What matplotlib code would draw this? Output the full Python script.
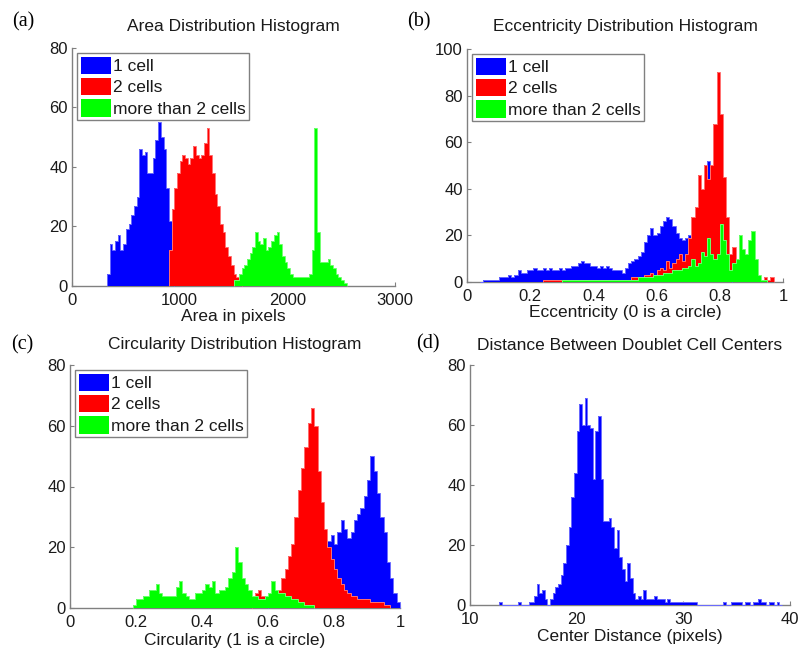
import numpy as np
import matplotlib
matplotlib.use('Agg')
import matplotlib.pyplot as plt
from matplotlib.patches import Patch

plt.rcParams['font.family'] = ['Liberation Sans', 'DejaVu Sans']

# ---------------- data ----------------
legend_labels = ['1 cell', '2 cells', 'more than 2 cells']

# (a) Area
area_bin = 25
area_1cell_start = 325
area_1cell = [4, 14, 12, 15, 17, 12, 14, 19, 21, 24, 27, 30, 46, 44, 45, 38, 38, 43, 49, 55,
              50, 46, 33, 22, 10]
area_2cell_start = 900
area_2cell = [12, 26, 33, 38, 42, 44, 43, 41, 43, 47, 44, 43, 44, 48, 53, 44, 38, 31, 27, 21,
              18, 13, 10, 7, 4, 3, 2]
area_more_start = 1500
area_more = [2, 2, 4, 6, 7, 9, 11, 13, 18, 15, 14, 16, 12, 13, 15, 17, 18, 14, 10, 8,
             6, 4, 3, 3, 3, 3, 3, 3, 4, 12, 53, 18, 8, 8, 8, 9, 7, 6, 4, 3, 2, 1]

# (b) Eccentricity
ecc_bin = 0.01
ecc_1cell_start = 0.04
ecc_1cell = [0, 1, 1, 1, 1, 1, 2, 2, 2, 3, 2, 3, 5, 4, 4, 5, 5, 6, 5, 5,
             6, 5, 6, 5, 5, 6, 5, 6, 6, 7, 7, 8, 9, 8, 8, 7, 7, 6, 7, 6,
             7, 6, 5, 5, 5, 4, 6, 8, 9, 10, 11, 13, 17, 20, 23, 20, 21, 24, 26, 28,
             27, 24, 21, 19, 18, 19, 20, 24, 28, 33, 40, 46, 52, 40, 36, 33, 20, 8, 3, 1]
ecc_2cell_start = 0.24
ecc_2cell = [1, 1, 1, 1, 1, 1, 1, 1, 1, 1,
             1, 1, 1, 1, 1, 1, 1, 1, 1, 1,
             1, 1, 1, 1, 1, 1, 1, 1, 2, 2,
             2, 2, 3, 3, 4, 3, 5, 6, 5, 9,
             6, 8, 10, 12, 9, 12, 19, 28, 32, 46,
             40, 50, 44, 50, 68, 90, 72, 45, 28, 12,
             15, 9, 4, 3, 3, 2, 2, 1, 1, 1,
             2, 1, 2]
ecc_more_start = 0.30
ecc_more = [1, 1, 1, 1, 1, 1, 1, 1, 1, 1,
            1, 1, 1, 1, 1, 1, 1, 1, 1, 1,
            1, 1, 1, 1, 2, 2, 2, 2, 2, 3,
            3, 3, 4, 4, 4, 5, 5, 5, 6, 6,
            7, 10, 7, 8, 13, 11, 19, 12, 10, 12,
            25, 18, 12, 5, 8, 10, 20, 14, 12, 18,
            22, 10, 3, 1, 1]

# (c) Circularity
circ_bin = 0.01
circ_1cell_start = 0.60
circ_1cell = [1, 1, 2, 2, 3, 4, 5, 6, 8, 9,
              11, 12, 14, 15, 17, 18, 20, 21, 22, 24,
              21, 25, 29, 26, 23, 25, 29, 31, 33, 37,
              42, 50, 45, 38, 30, 25, 15, 10, 5, 2]
circ_2cell_start = 0.55
circ_2cell = [2, 5, 6, 4, 3, 3, 4, 4, 6, 10,
              13, 17, 21, 30, 39, 46, 53, 61, 66, 60,
              45, 35, 26, 20, 16, 13, 10, 8, 6, 5,
              4, 4, 3, 3, 3, 3, 2, 2, 2, 2,
              1, 1]
circ_more_start = 0.19
circ_more = [1, 3, 3, 4, 4, 6, 6, 8, 5, 4,
             4, 4, 4, 7, 9, 5, 4, 3, 3, 5,
             5, 6, 8, 7, 9, 5, 6, 6, 7, 10,
             12, 20, 15, 10, 8, 6, 4, 4, 3, 3,
             4, 5, 9, 6, 5, 5, 4, 4, 3, 3,
             2, 2, 1, 1, 1]

# (d) Center distance
dist_bin = 0.25
dist_start = 12.75
dist_counts = [1, 0, 0, 0, 0, 0, 0, 1, 0, 0, 0, 1, 1,
               3, 7, 4, 5, 2, 0, 2, 4,
               6, 7, 10, 14, 20, 26, 36, 44,
               58, 67, 60, 69, 60, 59, 42, 58,
               63, 42, 28, 28, 29, 26, 19, 25,
               16, 12, 8, 14, 9, 4, 2, 3,
               2, 5, 2, 2, 2, 3, 2, 2,
               2, 1, 2, 1, 1, 1, 1, 1,
               1, 1, 1, 1, 1, 0, 0, 0,
               0, 0, 0, 0, 0, 0, 0, 1,
               0, 0, 1, 1, 1, 1, 0, 1,
               1, 0, 1, 1, 2, 1, 1, 0,
               1, 1, 0, 1, 0]

# ---------------- styling ----------------
BLUE, RED, GREEN = '#0000ff', '#ff0000', '#00ff00'
EDGE = {BLUE: '#6b6bff', RED: '#ff7070', GREEN: '#70ff70'}
AXC = '#808080'
TXT = '#1a1a1a'
W, H = 802, 648

fig = plt.figure(figsize=(W / 100, H / 100), dpi=100)


def px_axes(x0, x1, ytop, ybot):
    return fig.add_axes([x0 / W, 1 - ybot / H, (x1 - x0) / W, (ybot - ytop) / H])


def hist(ax, start, width, counts, color):
    counts = np.asarray(counts, dtype=float)
    edges = start + width * np.arange(len(counts) + 1)
    ax.stairs(counts, edges, fill=True, color=color, lw=0, zorder=3)
    ax.stairs(counts, edges, color=EDGE[color], lw=0.7, zorder=3, clip_on=False)


def style(ax, xlim, ylim, xticks, yticks, xticklabels=None):
    ax.set_xlim(*xlim)
    ax.set_ylim(*ylim)
    ax.set_xticks(xticks)
    if xticklabels is not None:
        ax.set_xticklabels(xticklabels)
    ax.set_yticks(yticks)
    for s in ('top', 'right'):
        ax.spines[s].set_visible(False)
    for s in ('left', 'bottom'):
        ax.spines[s].set_color(AXC)
        ax.spines[s].set_linewidth(1.0)
    ax.tick_params(direction='in', length=3, color=AXC, labelsize=12, labelcolor=TXT)
    ax.tick_params(axis='x', pad=5)
    ax.tick_params(axis='y', pad=3)
    ax.patch.set_alpha(0)


def titles(ax, title, xlabel, tpx, lpx):
    ax.annotate(title, xy=(0.5, 1), xycoords='axes fraction', xytext=(0, tpx * 0.72),
                textcoords='offset points', ha='center', va='center', fontsize=12.5, color=TXT)
    ax.annotate(xlabel, xy=(0.5, 0), xycoords='axes fraction', xytext=(0, -lpx * 0.72),
                textcoords='offset points', ha='center', va='center', fontsize=12.5, color=TXT)


def legend(ax):
    handles = [Patch(facecolor=c, edgecolor='none') for c in (BLUE, RED, GREEN)]
    lg = ax.legend(handles, legend_labels, loc='upper left', bbox_to_anchor=(0, 1),
                   frameon=True, fancybox=False, edgecolor=AXC, framealpha=1,
                   fontsize=12.5, handlelength=1.75, handleheight=1.15,
                   handletextpad=0.12, labelspacing=0.22, borderpad=0.2,
                   borderaxespad=0.3)
    lg.get_frame().set_linewidth(1.0)
    lg.set_zorder(5)
    for t in lg.get_texts():
        t.set_color(TXT)


# (a)
ax = px_axes(72, 395, 48, 286)
hist(ax, area_1cell_start, area_bin, area_1cell, BLUE)
hist(ax, area_2cell_start, area_bin, area_2cell, RED)
hist(ax, area_more_start, area_bin, area_more, GREEN)
style(ax, (0, 3000), (0, 80), [0, 1000, 2000, 3000], [0, 20, 40, 60, 80])
titles(ax, 'Area Distribution Histogram', 'Area in pixels', 21, 31)
legend(ax)

# (b)
ax = px_axes(467, 783, 49, 282)
hist(ax, ecc_1cell_start, ecc_bin, ecc_1cell, BLUE)
hist(ax, ecc_2cell_start, ecc_bin, ecc_2cell, RED)
hist(ax, ecc_more_start, ecc_bin, ecc_more, GREEN)
style(ax, (0, 1), (0, 100), [0, 0.2, 0.4, 0.6, 0.8, 1], [0, 20, 40, 60, 80, 100],
      ['0', '0.2', '0.4', '0.6', '0.8', '1'])
titles(ax, 'Eccentricity Distribution Histogram', 'Eccentricity (0 is a circle)', 22, 31)
legend(ax)

# (c)
ax = px_axes(70, 400, 365, 608)
hist(ax, circ_1cell_start, circ_bin, circ_1cell, BLUE)
hist(ax, circ_2cell_start, circ_bin, circ_2cell, RED)
hist(ax, circ_more_start, circ_bin, circ_more, GREEN)
style(ax, (0, 1), (0, 80), [0, 0.2, 0.4, 0.6, 0.8, 1], [0, 20, 40, 60, 80],
      ['0', '0.2', '0.4', '0.6', '0.8', '1'])
titles(ax, 'Circularity Distribution Histogram', 'Circularity (1 is a circle)', 20, 32)
legend(ax)

# (d)
ax = px_axes(470, 790, 365, 605)
hist(ax, dist_start, dist_bin, dist_counts, BLUE)
style(ax, (10, 40), (0, 80), [10, 20, 30, 40], [0, 20, 40, 60, 80])
titles(ax, 'Distance Between Doublet Cell Centers', 'Center Distance (pixels)', 20, 32)

# panel letters
for lab, x, y in [('(a)', 23, 22), ('(b)', 419, 22), ('(c)', 22, 345), ('(d)', 428, 344)]:
    fig.text(x / W, 1 - y / H, lab, ha='center', va='center', fontsize=14.5,
             family=['Liberation Serif', 'DejaVu Serif'], color='black')

fig.savefig('out.png', dpi=100)
